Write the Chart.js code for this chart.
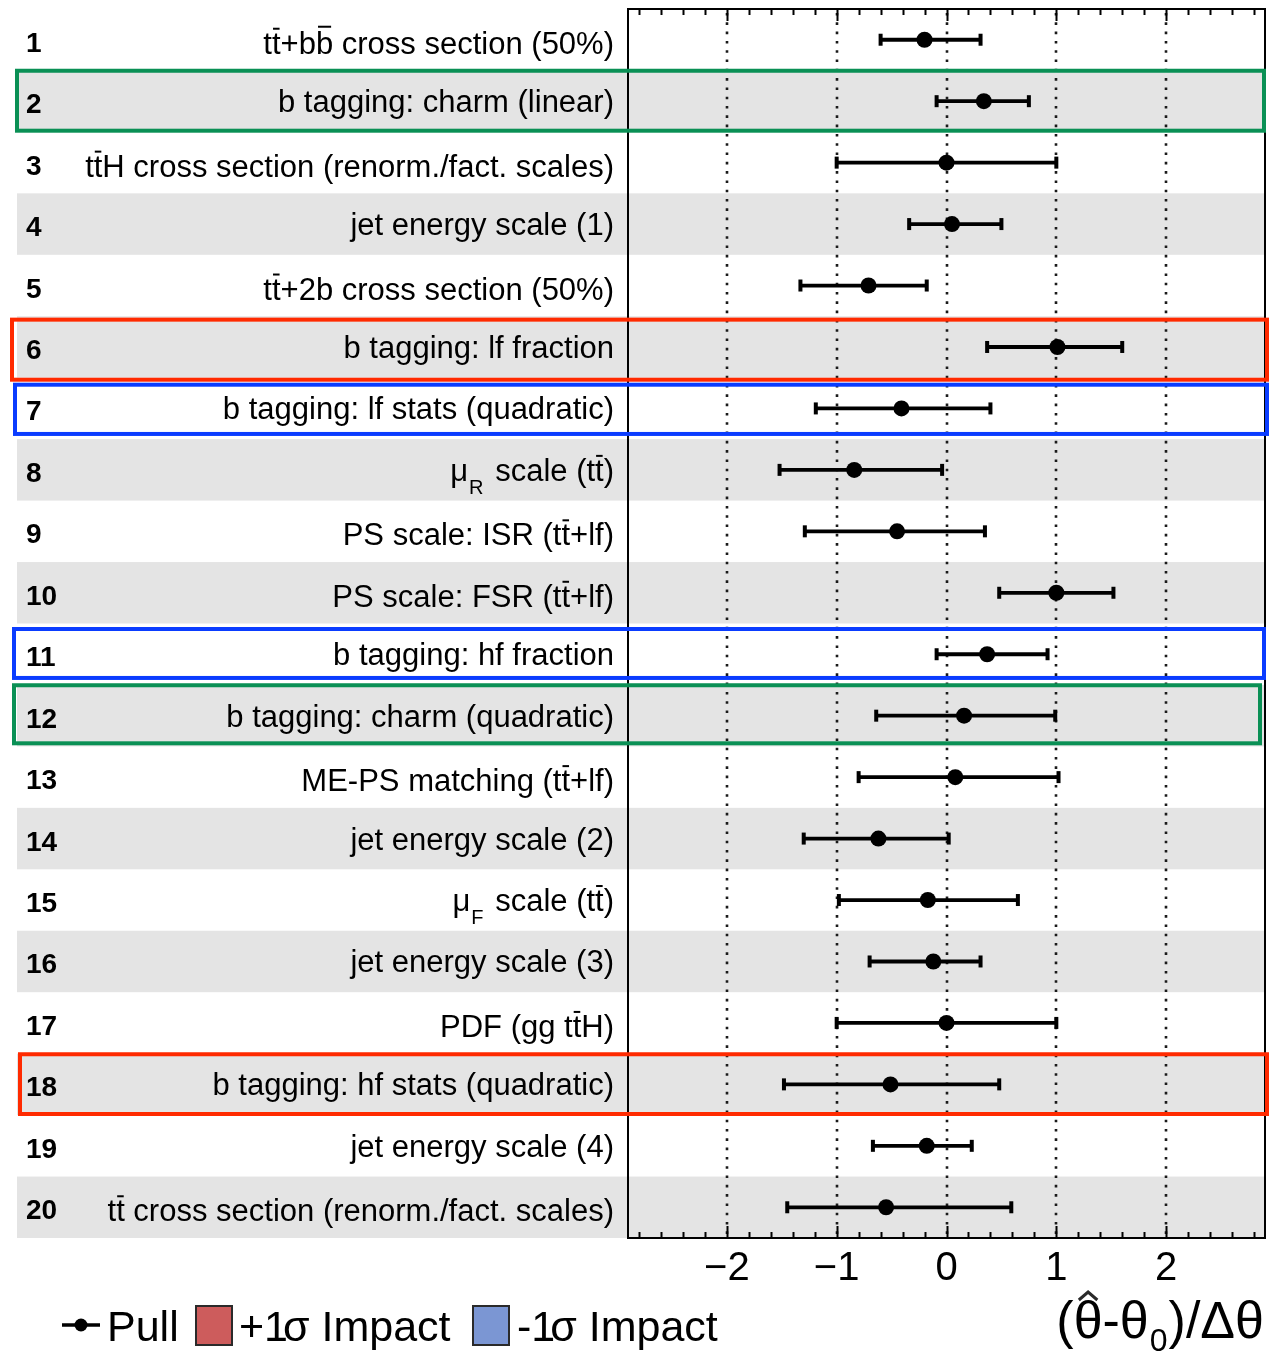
<!DOCTYPE html>
<html>
<head>
<meta charset="utf-8">
<script src="https://cdn.jsdelivr.net/npm/chart.js@4/dist/chart.umd.min.js"></script>
<style>
  html, body { margin: 0; padding: 0; background: #fff; }
  #wrap { position: relative; width: 1269px; height: 1353px; }
</style>
</head>
<body>
<div id="wrap"><canvas id="pulls" width="1269" height="1353"></canvas></div>
<script>
// Nuisance parameter ranks and names ("~x" = overlined x, "_X" = subscript X)
const ROW_IDS = [1, 2, 3, 4, 5, 6, 7, 8, 9, 10, 11, 12, 13, 14, 15, 16, 17, 18, 19, 20];
const LABELS = [
  "t~t+b~b cross section (50%)",
  "b tagging: charm (linear)",
  "t~tH cross section (renorm./fact. scales)",
  "jet energy scale (1)",
  "t~t+2b cross section (50%)",
  "b tagging: lf fraction",
  "b tagging: lf stats (quadratic)",
  "μ_R scale (t~t)",
  "PS scale: ISR (t~t+lf)",
  "PS scale: FSR (t~t+lf)",
  "b tagging: hf fraction",
  "b tagging: charm (quadratic)",
  "ME-PS matching (t~t+lf)",
  "jet energy scale (2)",
  "μ_F scale (t~t)",
  "jet energy scale (3)",
  "PDF (gg t~tH)",
  "b tagging: hf stats (quadratic)",
  "jet energy scale (4)",
  "t~t cross section (renorm./fact. scales)"
];
// Post-fit pulls and their lower / upper uncertainty edges
const PULL   = [-0.20, 0.34, 0.00, 0.05, -0.71, 1.01, -0.41, -0.84, -0.45, 1.00,
                 0.37, 0.16, 0.08, -0.62, -0.17, -0.12, 0.00, -0.51, -0.18, -0.55];
const ERR_LO = [-0.60, -0.09, -1.00, -0.34, -1.33, 0.37, -1.19, -1.52, -1.29, 0.48,
                -0.09, -0.64, -0.80, -1.30, -0.98, -0.70, -1.00, -1.48, -0.67, -1.45];
const ERR_HI = [ 0.31, 0.75, 1.00, 0.50, -0.18, 1.60, 0.40, -0.04, 0.35, 1.52,
                 0.92, 0.99, 1.02, 0.02, 0.65, 0.31, 1.00, 0.48, 0.23, 0.59];
const X_TICKS = [-2, -1, 0, 1, 2];
// Highlighted parameters
const HIGHLIGHT_ROWS   = [2, 6, 7, 11, 12, 18];
const HIGHLIGHT_COLORS = ["green", "red", "blue", "blue", "green", "red"];

// ---- styling ----
const FONT = "'Liberation Sans', Arial, Helvetica, sans-serif";
const PALETTE = { green: "#0a9055", red: "#ff2a00", blue: "#0a3cff" };
// per-box outline tweaks: [top, bottom, left, right]
const BOX_GEOM = {
  2:  [0.3, -1.2, 15, 1266],
  6:  [3.4, 2.0, 10, 1269],
  7:  [7.0, -5.2, 13, 1269],
  11: [5.5, -7.0, 12, 1266],
  12: [0.3, -3.1, 12, 1262],
  18: [0.6, -1.1, 18, 1269]
};

function parseRich(s) {
  const segs = [];
  for (let i = 0; i < s.length; i++) {
    const c = s[i];
    if (c === "~") { segs.push({ t: s[i + 1], bar: true }); i++; }
    else if (c === "_") { segs.push({ t: s[i + 1], sub: true }); i++; }
    else {
      const last = segs[segs.length - 1];
      if (last && !last.bar && !last.sub) last.t += c; else segs.push({ t: c });
    }
  }
  return segs;
}

function drawRich(ctx, s, xRight, baseline, size) {
  const segs = parseRich(s);
  const main = size + "px " + FONT, small = Math.round(size * 0.66) + "px " + FONT;
  // lines carrying an overline sit slightly lower
  if (segs.some(g => g.bar) && !segs.some(g => g.sub)) baseline += 3;
  let total = 0;
  segs.forEach(g => {
    ctx.font = g.sub ? small : main;
    g.w = ctx.measureText(g.t).width + (g.sub ? 4 : 0);
    total += g.w;
  });
  let x = xRight - total;
  ctx.textAlign = "left";
  ctx.textBaseline = "alphabetic";
  segs.forEach(g => {
    ctx.font = g.sub ? small : main;
    if (g.sub) {
      ctx.fillText(g.t, x + 1, baseline + size * 0.42);
    } else {
      ctx.fillText(g.t, x, baseline);
      if (g.bar) {
        const m = ctx.measureText(g.t);
        const top = baseline - m.actualBoundingBoxAscent - 3;
        ctx.fillRect(x + g.w * 0.12, top - 2, g.w * 0.76, 2);
      }
    }
    x += g.w;
  });
}

const pullPlot = {
  id: "pullPlot",
  beforeDraw(chart) {
    const { ctx, chartArea: a, scales: { y } } = chart;
    ctx.save();
    ctx.fillStyle = "#fff";
    ctx.fillRect(0, 0, chart.width, chart.height);
    ctx.fillStyle = "#e4e4e4";
    ROW_IDS.forEach(r => {
      if (r % 2 === 0) {
        const t = y.getPixelForValue(r - 0.5), b = y.getPixelForValue(r + 0.5);
        ctx.fillRect(17, t, a.right - 17, b - t);
      }
    });
    ctx.restore();
  },
  beforeDatasetsDraw(chart) {
    const { ctx, chartArea: a, scales: { x, y } } = chart;
    ctx.save();
    // dotted reference lines
    ctx.strokeStyle = "#1a1a1a";
    ctx.lineWidth = 2.6;
    ctx.setLineDash([2.6, 6.7]);
    X_TICKS.forEach(v => {
      const px = Math.round(x.getPixelForValue(v));
      ctx.beginPath();
      ctx.moveTo(px, a.top + 4);
      ctx.lineTo(px, a.bottom);
      ctx.stroke();
    });
    ctx.setLineDash([]);
    // uncertainty bars
    ctx.strokeStyle = "#000";
    ctx.fillStyle = "#000";
    ctx.lineWidth = 3.8;
    ROW_IDS.forEach((r, i) => {
      const py = y.getPixelForValue(r);
      const x1 = x.getPixelForValue(ERR_LO[i]), x2 = x.getPixelForValue(ERR_HI[i]);
      ctx.beginPath();
      ctx.moveTo(x1, py);
      ctx.lineTo(x2, py);
      ctx.stroke();
      ctx.fillRect(x1 - 2, py - 6, 4, 12);
      ctx.fillRect(x2 - 2, py - 6, 4, 12);
    });
    ctx.restore();
  },
  afterDraw(chart) {
    const { ctx, chartArea: a, scales: { x, y } } = chart;
    ctx.save();
    // frame
    ctx.strokeStyle = "#000";
    ctx.lineWidth = 2;
    ctx.strokeRect(a.left, a.top, a.right - a.left, a.bottom - a.top);
    // inward tick marks on top and bottom edges
    ctx.lineWidth = 2;
    for (let k = -14; k <= 14; k++) {
      const px = Math.round(x.getPixelForValue(k / 5)) + 0.5;
      const len = k % 5 === 0 ? 12 : 6;
      ctx.beginPath();
      ctx.moveTo(px, a.top); ctx.lineTo(px, a.top + len);
      ctx.moveTo(px, a.bottom); ctx.lineTo(px, a.bottom - len);
      ctx.stroke();
    }
    // row numbers and parameter names
    ctx.fillStyle = "#000";
    ROW_IDS.forEach((r, i) => {
      const cy = y.getPixelForValue(r);
      ctx.font = "bold 28px " + FONT;
      ctx.textAlign = "left";
      ctx.textBaseline = "alphabetic";
      ctx.fillText(String(r), 26, cy + 12);
      drawRich(ctx, LABELS[i], 614, cy + 11, 31);
    });
    // highlight boxes
    ctx.lineWidth = 4;
    HIGHLIGHT_ROWS.forEach((r, i) => {
      const g = BOX_GEOM[r] || [0, 0, 12, 1266];
      const t = y.getPixelForValue(r - 0.5) + g[0];
      const b = y.getPixelForValue(r + 0.5) + g[1];
      ctx.strokeStyle = PALETTE[HIGHLIGHT_COLORS[i]];
      ctx.strokeRect(g[2] + 2, t, g[3] - g[2] - 4, b - t);
    });
    // legend
    const ly = 1325;
    ctx.strokeStyle = "#000";
    ctx.lineWidth = 3.5;
    ctx.beginPath(); ctx.moveTo(62, ly); ctx.lineTo(100, ly); ctx.stroke();
    ctx.beginPath(); ctx.arc(81, ly, 6.5, 0, Math.PI * 2); ctx.fill();
    ctx.font = "43px " + FONT;
    ctx.textAlign = "left";
    ctx.textBaseline = "alphabetic";
    ctx.fillText("Pull", 107, 1341);
    ctx.lineWidth = 2;
    ctx.strokeStyle = "#2a2a2a";
    ctx.fillStyle = "#cd5c5c";
    ctx.fillRect(196, 1306, 36, 39); ctx.strokeRect(196, 1306, 36, 39);
    ctx.fillStyle = "#7b96d3";
    ctx.fillRect(473, 1306, 36, 39); ctx.strokeRect(473, 1306, 36, 39);
    ctx.fillStyle = "#000";
    const sigmaText = (txt, x0) => {
      let xx = x0;
      ctx.fillText(txt, xx, 1341); xx += ctx.measureText(txt).width - 5;
      ctx.fillText("σ", xx, 1341); xx += ctx.measureText("σ").width;
      ctx.fillText(" Impact", xx, 1341);
    };
    sigmaText("+1", 239);
    sigmaText("-1", 517);
    // axis title (θ̂-θ0)/Δθ, right-aligned
    const fs = 52;
    const big = fs + "px " + FONT;
    const small = Math.round(fs * 0.62) + "px " + FONT;
    const parts = [["(", 0], ["θ", 1], ["-θ", 0], ["0", 2], [")/Δθ", 0]];
    const widths = parts.map(p => { ctx.font = p[1] === 2 ? small : big; return ctx.measureText(p[0]).width + (p[1] === 2 ? 2 : 0); });
    let tx = 1264 - widths.reduce((s, w) => s + w, 0);
    const tb = 1338;
    parts.forEach((p, i) => {
      ctx.font = p[1] === 2 ? small : big;
      if (p[1] === 2) ctx.fillText(p[0], tx + 1, tb + 13);
      else ctx.fillText(p[0], tx, tb);
      if (p[1] === 1) {
        const w = widths[i];
        ctx.lineWidth = 3;
        ctx.beginPath();
        ctx.moveTo(tx + w * 0.18, tb - 38);
        ctx.lineTo(tx + w * 0.5, tb - 46);
        ctx.lineTo(tx + w * 0.82, tb - 38);
        ctx.stroke();
      }
      tx += widths[i];
    });
    ctx.restore();
  }
};

new Chart(document.getElementById("pulls"), {
  type: "scatter",
  data: {
    datasets: [{
      label: "Pull",
      data: ROW_IDS.map((r, i) => ({ x: PULL[i], y: r })),
      pointRadius: 8,
      pointHoverRadius: 8,
      pointBackgroundColor: "#000",
      pointBorderWidth: 0,
      showLine: false
    }]
  },
  options: {
    responsive: false,
    animation: false,
    devicePixelRatio: 1,
    events: [],
    layout: { autoPadding: false, padding: { left: 628, top: 9, right: 4, bottom: 0 } },
    plugins: { legend: { display: false }, tooltip: { enabled: false } },
    scales: {
      x: {
        type: "linear",
        min: -2.9,
        max: 2.9,
        position: "bottom",
        afterBuildTicks: s => { s.ticks = X_TICKS.map(v => ({ value: v })); },
        afterFit: s => { s.height = 115; },
        grid: { display: false, drawTicks: false },
        border: { display: false },
        ticks: {
          autoSkip: false,
          maxRotation: 0,
          padding: 7,
          color: "#000",
          font: { family: FONT, size: 40 },
          callback: v => (v < 0 ? "\u2212" + Math.abs(v) : String(v))
        }
      },
      y: {
        type: "linear",
        min: 0.5,
        max: 20.5,
        reverse: true,
        display: false
      }
    }
  },
  plugins: [pullPlot]
});
</script>
</body>
</html>
